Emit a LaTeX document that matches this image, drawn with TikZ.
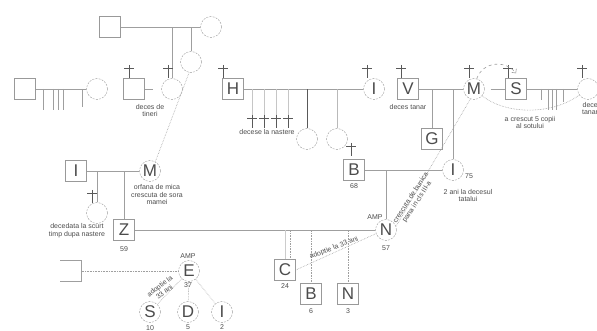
\documentclass[tikz,border=0pt]{standalone}
\usepackage{fontspec}
\setmainfont{Liberation Sans}
\usetikzlibrary{arrows.meta}
\begin{document}
\begin{tikzpicture}[x=1pt,y=-1pt,
	every node/.style={font=\fontsize{7}{7.5}\selectfont, text=black!70},
	male/.style={draw=gray!80, minimum size=21pt, inner sep=0pt, font=\fontsize{17}{17}\selectfont},
	female/.style={circle, draw=gray!80, dash pattern=on 2pt off 1.2pt, minimum size=21pt, inner sep=0pt, font=\fontsize{17}{17}\selectfont},
	link/.style={gray!75, line width=0.6pt},
	adopt/.style={gray!75, line width=0.6pt, densely dotted},
	note/.style={align=center, inner sep=0.5pt},
	dead/.pic={\draw[black!65, line width=0.9pt] (0,0) -- (0,13) (-5,3.5) -- (5,3.5);}]
	\useasboundingbox (0,0) rectangle (597,331);
	% bunicii din stanga sus
	\node[male] (bunic) at (110,27) {};
	\node[female] (bunica) at (211,27) {};
	\node[female] (fiica1) at (191,62) {};
	\node[female] (fiica2) at (172,89) {};
	\node[male] (frate) at (134,89) {};
	\coordinate (frcap) at (153,89);
	\draw[link] (bunic) -- (bunica);
	\draw[link] (fiica1.north) -- (fiica1.north |- bunica);
	\draw[link] (fiica2.north) -- (fiica2.north |- bunica);
	\draw[link] (frate) -- (frcap);
	\pic at (168,65) {dead};
	\pic at (129,65) {dead};
	\node[note] (tineri) at (150,110.5) {deces de\\tineri};
	% familia din stanga
	\node[male] (sqL) at (25,89) {};
	\node[female] (ciL) at (97,89) {};
	\draw[link] (sqL) -- (ciL);
	\foreach \x/\l in {43/21,53/21,58/21,63/21,82/18}
		\draw[link] (\x,89) -- ++(0,\l);
	% parintii lui Z
	\node[male] (tI) at (76,171) {I};
	\node[female] (M1) at (150,171) {M};
	\draw[link] (tI) -- (M1);
	\node[female] (sorZ) at (97,213) {};
	\draw[link] (sorZ.north) -- (sorZ.north |- tI);
	\pic at (92,190) {dead};
	\node[male] (Z) at (124,230) {Z};
	\draw[link] (Z.north) -- (Z.north |- tI);
	\node (vZ) at (124,249) {59};
	\node[note] (orfana) at (157,194.5) {orfana de mica\\crescuta de sora\\mamei};
	\node[note] (scurt) at (77,230.5) {decedata la scurt\\timp dupa nastere};
	\draw[adopt] (fiica1.260) -- (M1.60);
	% Z si N
	\node[female] (N1) at (386,230) {N};
	\draw[link] (Z) -- (N1);
	\node (ampN) at (375,217) {AMP};
	\node (vN) at (386,248) {57};
	\node[male] (C) at (285,270) {C};
	\node[male] (B2) at (311,294) {B};
	\node[male] (N2) at (348,294) {N};
	\draw[gray!40, line width=0.6pt] (C.north) -- (C.north |- Z);
	\draw[adopt] ([xshift=5pt]C.north) -- ([xshift=5pt]C.north |- Z);
	\draw[adopt] (B2.north) -- (B2.north |- Z);
	\draw[adopt] (N2.north) -- (N2.north |- Z);
	\node (vC) at (285,286) {24};
	\node (vB2) at (311,311) {6};
	\node (vN2) at (348,311) {3};
	\draw[adopt] (C.east) -- (N1.200);
	\node[rotate=21] (adC) at (334,248) {adoptie la 33 ani};
	% parintii lui N
	\node[male] (B1) at (354,170) {B};
	\pic at (351,143) {dead};
	\node (vB1) at (354,186) {68};
	\node[female] (I1) at (453,170) {I};
	\node (vI1) at (469,176) {75};
	\node[note] (doi) at (468,195.5) {2 ani la decesul\\tatalui};
	\draw[link] (B1) -- (I1);
	\draw[link] (N1.north) -- (N1.north |- B1);
	% familia lui M
	\node[male] (V) at (408,89) {V};
	\pic at (401,65) {dead};
	\node (tanar) at (408,107) {deces tanar};
	\node[female] (M2) at (474,89) {M};
	\pic at (469,65) {dead};
	\draw[link] (V) -- (M2);
	\node[male] (G) at (432,139) {G};
	\draw[link] (G.north) -- (G.north |- V);
	\draw[link] (I1.north) -- (I1.north |- V);
	\node[male] (S) at (516,89) {S};
	\pic at (508,65) {dead};
	\draw[link] ([xshift=6pt]M2.east) -- (S);
	\node[female] (R) at (588,89) {};
	\pic at (582,65) {dead};
	\draw[link] (S) -- (R);
	\foreach \x/\l in {541/11,548/21,552/21,556/21,563/13}
		\draw[link] (\x,89) -- ++(0,\l);
	\node[note] (tanara) at (592,108.5) {deces\\tanara};
	\draw[gray!75, line width=0.6pt, dashed, -{Straight Barb[length=3pt]}] (M2.75) .. controls (483,61) and (506,60) .. ([yshift=5pt]S.north);
	\draw[adopt] (M2.-40) .. controls (505,114) and (550,116) .. (R.215);
	\node[note] (cinci) at (530,122.5) {a crescut 5 copii\\al sotului};
	\draw[adopt] (M2.250) -- (N1.20);
	\node[note, rotate=57] (bunica2) at (414,200) {crescuta de bunica\\pana in cls III-a};
	% familia lui H
	\node[male] (H) at (233,89) {H};
	\pic at (223,65) {dead};
	\node[female] (I2) at (374,89) {I};
	\pic at (367,65) {dead};
	\draw[link] (H) -- (I2);
	\foreach \x in {252,264,276,288} {
		\draw[gray!45, line width=0.6pt] (\x,89) -- (\x,115);
		\pic at (\x,115) {dead};
	}
	\node (nastere) at (267,132) {decese la nastere};
	\node[female] (h1) at (307,139) {};
	\node[female] (h2) at (337,139) {};
	\draw[black!65, line width=0.6pt] (h1.north) -- (h1.north |- H);
	\draw[gray!55, line width=0.6pt] (h2.north) -- (h2.north |- H);
	% E si copiii adoptati
	\node[minimum size=21pt, inner sep=0pt] (sqE) at (71,271) {};
	\draw[link] (sqE.north west) -- (sqE.north east) -- (sqE.south east) -- (sqE.south west);
	\node[female] (E) at (189,271) {E};
	\node (ampE) at (188,256) {AMP};
	\node (vE) at (188,285.5) {37};
	\draw[adopt] (sqE) -- (E);
	\node[female] (S3) at (150,312) {S};
	\node[female] (D) at (188,312) {D};
	\node[female] (I3) at (222,312) {I};
	\node (vS3) at (150,328) {10};
	\node (vD) at (188,327.5) {5};
	\node (vI3) at (222,327.5) {2};
	\draw[adopt] (E) -- (S3);
	\draw[adopt] (E) -- (D);
	\draw[adopt] (E) -- (I3);
	\node[note, rotate=38] (adE) at (162,289) {adoptie la\\33 ani};
\end{tikzpicture}
\end{document}
